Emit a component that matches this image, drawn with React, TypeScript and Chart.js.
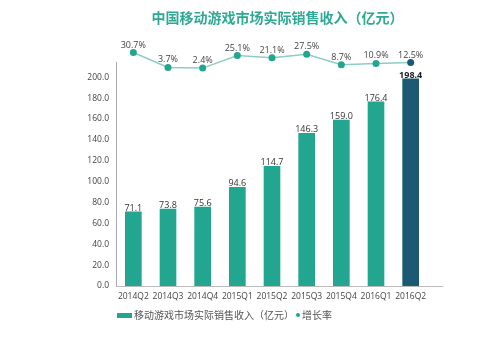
import React, { useEffect, useRef } from "react";
import { Chart, registerables } from "chart.js";

Chart.register(...registerables);

const titleText = "中国移动游戏市场实际销售收入（亿元）";
const barSeriesName = "移动游戏市场实际销售收入（亿元）";
const lineSeriesName = "增长率";
const categories = ["2014Q2", "2014Q3", "2014Q4", "2015Q1", "2015Q2", "2015Q3", "2015Q4", "2016Q1", "2016Q2"];
const revenue = [71.1, 73.8, 75.6, 94.6, 114.7, 146.3, 159.0, 176.4, 198.4];
const growth = [30.7, 3.7, 2.4, 25.1, 21.1, 27.5, 8.7, 10.9, 12.5];
const yTicks = [0, 20, 40, 60, 80, 100, 120, 140, 160, 180, 200];

const TEAL = "#22a690";
const DARK = "#1b5a72";
const LINE = "#8fcdc2";

const FONT = "'Open Sans', 'Noto Sans CJK SC', sans-serif";

const valueLabels = {
  id: "valueLabels",
  afterDatasetsDraw(chart: any) {
    const ctx = chart.ctx;
    ctx.save();
    chart.data.datasets.forEach((ds: any, i: number) => {
      const meta = chart.getDatasetMeta(i);
      meta.data.forEach((el: any, j: number) => {
        const v = ds.data[j];
        ctx.textAlign = "center";
        ctx.textBaseline = "bottom";
        if (ds.type === "bar") {
          const last = j === ds.data.length - 1;
          ctx.font = `${last ? "bold " : ""}9px ${FONT}`;
          ctx.fillStyle = last ? "#222" : "#333";
          ctx.fillText(v.toFixed(1), el.x, el.y + 1);
        } else {
          ctx.font = `9px ${FONT}`;
          ctx.fillStyle = "#444";
          ctx.fillText(`${v}%`, el.x, el.y - 3);
        }
      });
    });
    ctx.restore();
  },
};

const axisLines = {
  id: "axisLines",
  afterDraw(chart: any) {
    const { ctx, chartArea } = chart;
    ctx.save();
    ctx.lineWidth = 1;
    ctx.strokeStyle = "#bbbbbb";
    ctx.beginPath();
    ctx.moveTo(chartArea.left, chartArea.bottom + 0.5);
    ctx.lineTo(chartArea.right + 15, chartArea.bottom + 0.5);
    ctx.stroke();
    ctx.strokeStyle = "#aaaaaa";
    ctx.beginPath();
    ctx.moveTo(chartArea.left + 0.5, chartArea.bottom + 0.5);
    ctx.lineTo(chartArea.left + 0.5, chartArea.top + 22);
    ctx.stroke();
    ctx.restore();
  },
};

export default function App() {
  const ref = useRef<HTMLCanvasElement | null>(null);

  useEffect(() => {
    if (!ref.current) return;
    const chart = new Chart(ref.current, {
      type: "bar",
      data: {
        labels: categories,
        datasets: [
          {
            type: "line",
            label: lineSeriesName,
            data: growth,
            yAxisID: "y2",
            borderColor: LINE,
            borderWidth: 1.5,
            pointRadius: 3.5,
            pointBorderWidth: 0,
            pointBackgroundColor: growth.map((_, i) => (i === growth.length - 1 ? DARK : TEAL)),
            clip: false,
            order: 0,
          } as any,
          {
            type: "bar",
            label: barSeriesName,
            data: revenue,
            yAxisID: "y",
            backgroundColor: revenue.map((_, i) => (i === revenue.length - 1 ? DARK : TEAL)),
            barThickness: 16,
            order: 1,
          } as any,
        ],
      },
      options: {
        responsive: false,
        animation: false,
        layout: { padding: { left: 0, right: 71, top: 40, bottom: 0 } },
        plugins: {
          legend: { display: false },
          title: { display: false },
          tooltip: { enabled: false },
        },
        scales: {
          x: {
            grid: { display: false, drawTicks: false },
            border: { display: false },
            ticks: { color: "#444", font: { size: 8.5, family: FONT }, padding: 5, maxRotation: 0 },
            afterFit: (s: any) => {
              s.height = 60;
            },
          },
          y: {
            min: 0,
            max: 235.7,
            grid: { display: false, drawTicks: false },
            border: { display: false },
            ticks: {
              color: "#444",
              font: { size: 8.5, family: FONT },
              padding: 7,
              callback: (v: any) => Number(v).toFixed(1),
            },
            afterBuildTicks: (s: any) => {
              s.ticks = yTicks.map((value) => ({ value }));
            },
            afterFit: (s: any) => {
              s.width = 116;
            },
          },
          y2: {
            display: false,
            min: -393.1,
            max: 53.4,
          },
        },
      },
      plugins: [valueLabels, axisLines],
    } as any);
    return () => chart.destroy();
  }, []);

  return (
    <div style={{ position: "fixed", left: 0, top: 0, width: 499, height: 346, background: "#fff" }}>
      <canvas ref={ref} width={499} height={346} style={{ position: "absolute", left: 0, top: 0 }} />
      <div
        style={{
          position: "absolute",
          left: 0,
          width: 499,
          top: 7,
          paddingLeft: 56,
          boxSizing: "border-box",
          textAlign: "center",
          fontFamily: "'Noto Sans CJK SC', sans-serif",
          fontWeight: "bold",
          fontSize: 14,
          color: "#2fa993",
          lineHeight: "20px",
        }}
      >
        {titleText}
      </div>
      <div
        style={{
          position: "absolute",
          left: 117,
          top: 307,
          display: "flex",
          alignItems: "center",
          fontFamily: "'Noto Sans CJK SC', sans-serif",
          fontSize: 10,
          color: "#555",
          lineHeight: "16px",
          whiteSpace: "nowrap",
        }}
      >
        <span style={{ display: "inline-block", width: 15, height: 5, background: TEAL, marginRight: 2 }} />
        <span>{barSeriesName}</span>
        <span style={{ display: "inline-block", width: 4, height: 4, borderRadius: 2, background: TEAL, margin: "0 2px" }} />
        <span>{lineSeriesName}</span>
      </div>
    </div>
  );
}
